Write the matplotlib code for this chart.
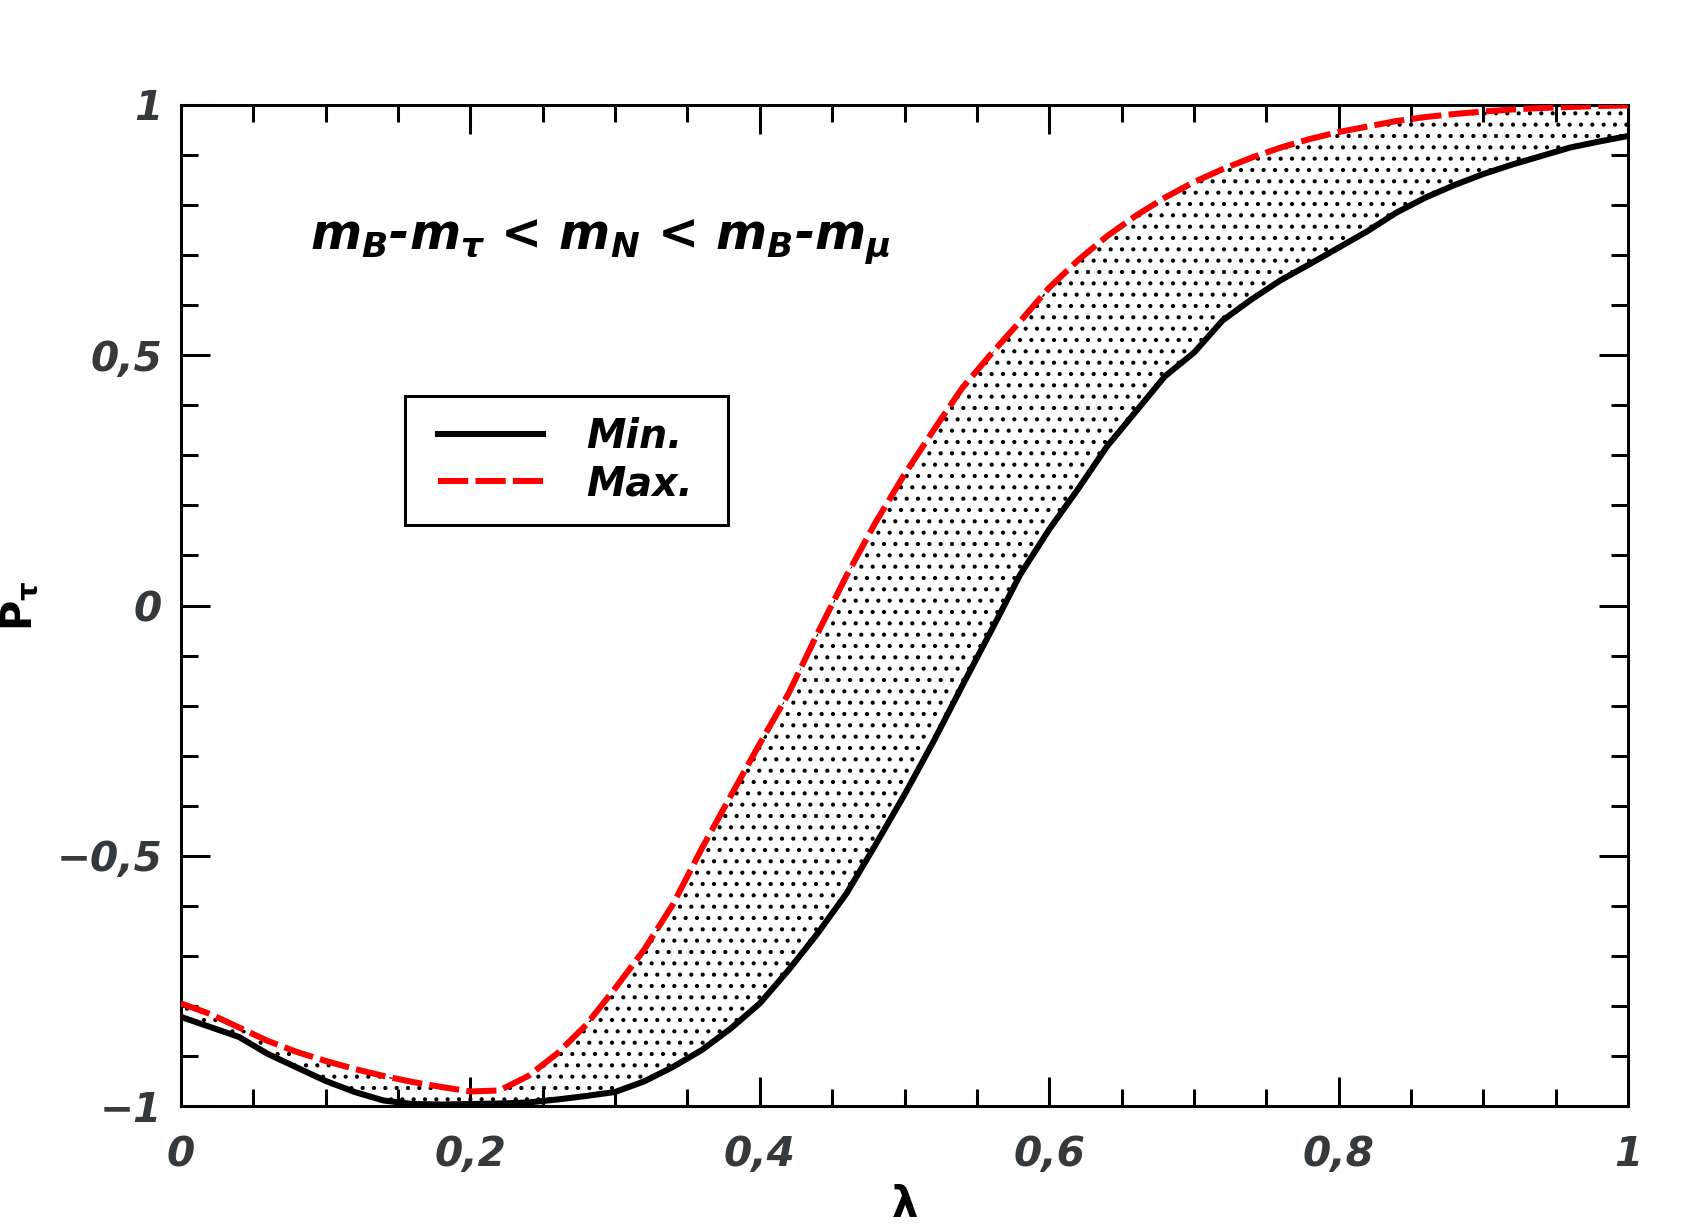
import numpy as np
import matplotlib
matplotlib.use("Agg")
import matplotlib.pyplot as plt
from matplotlib.ticker import MultipleLocator, FuncFormatter
from matplotlib.lines import Line2D
from matplotlib.legend_handler import HandlerLine2D


# Data
lam = [0.00, 0.02, 0.04, 0.06, 0.08, 0.10, 0.12, 0.14, 0.16, 0.18,
       0.20, 0.22, 0.24, 0.26, 0.28, 0.30, 0.32, 0.34, 0.36, 0.38,
       0.40, 0.42, 0.44, 0.46, 0.48, 0.50, 0.52, 0.54, 0.56, 0.58,
       0.60, 0.62, 0.64, 0.66, 0.68, 0.70, 0.72, 0.74, 0.76, 0.78,
       0.80, 0.82, 0.84, 0.86, 0.88, 0.90, 0.92, 0.94, 0.96, 0.98, 1.00]

p_min = [-0.822, -0.842, -0.862, -0.896, -0.923, -0.950, -0.972, -0.989, -0.996, -0.997,
         -0.996, -0.995, -0.993, -0.987, -0.980, -0.972, -0.951, -0.922, -0.888, -0.845,
         -0.795, -0.728, -0.655, -0.575, -0.478, -0.378, -0.272, -0.160, -0.050, 0.062,
         0.152, 0.233, 0.318, 0.388, 0.458, 0.505, 0.570, 0.612, 0.650, 0.682,
         0.715, 0.748, 0.785, 0.815, 0.840, 0.862, 0.881, 0.898, 0.915, 0.927, 0.938]

p_max = [-0.795, -0.816, -0.843, -0.870, -0.892, -0.910, -0.926, -0.940, -0.952, -0.962,
         -0.971, -0.969, -0.940, -0.895, -0.838, -0.765, -0.688, -0.597, -0.485, -0.380,
         -0.276, -0.175, -0.055, 0.060, 0.166, 0.262, 0.350, 0.435, 0.503, 0.568,
         0.635, 0.690, 0.738, 0.779, 0.815, 0.846, 0.872, 0.895, 0.915, 0.932,
         0.946, 0.957, 0.968, 0.976, 0.982, 0.987, 0.991, 0.994, 0.996, 0.998, 0.999]

label_min = "Min."
label_max = "Max."
note = r"$m_B$-$m_\tau$ < $m_N$ < $m_B$-$m_\mu$"


# Style
plt.rcParams['font.family'] = 'DejaVu Sans'
plt.rcParams['font.weight'] = 'bold'
plt.rcParams['font.style'] = 'italic'
plt.rcParams['mathtext.fontset'] = 'custom'
plt.rcParams['mathtext.rm'] = 'DejaVu Sans:style=normal:weight=bold'
plt.rcParams['mathtext.it'] = 'DejaVu Sans:style=italic:weight=bold'
plt.rcParams['mathtext.bf'] = 'DejaVu Sans:style=normal:weight=bold'
plt.rcParams['hatch.linewidth'] = 2.0

DPI = 68
W, H = 1691, 1232
tick_col = '#33393c'

fig = plt.figure(figsize=(W / DPI, H / DPI), dpi=DPI)
ax = fig.add_axes([181 / W, 1 - 1106 / H, 1447 / W, 1001 / H])

# band + curves
ax.fill_between(lam, p_min, p_max, facecolor='none', edgecolor='black',
                hatch='.', linewidth=0, zorder=1)
ax.plot(lam, p_min, color='black', lw=6.4, label=label_min, zorder=3)
ax.plot(lam, p_max, color='red', lw=6.4, ls=(0, (5.0, 1.2)),
        dash_capstyle='butt', label=label_max, zorder=4)

ax.set_xlim(0, 1)
ax.set_ylim(-1, 1)

# ticks
fmt = FuncFormatter(lambda v, p: ('%g' % v).replace('.', ',').replace('-', '\u2212'))
ax.xaxis.set_major_locator(MultipleLocator(0.2))
ax.xaxis.set_minor_locator(MultipleLocator(0.05))
ax.yaxis.set_major_locator(MultipleLocator(0.5))
ax.yaxis.set_minor_locator(MultipleLocator(0.1))
ax.xaxis.set_major_formatter(fmt)
ax.yaxis.set_major_formatter(fmt)
ax.tick_params(which='both', direction='in', top=True, right=True, width=3.2,
               labelsize=43, labelcolor=tick_col)
ax.tick_params(which='major', length=31)
ax.tick_params(which='minor', length=18.5)
ax.tick_params(axis='x', pad=31)
ax.tick_params(axis='y', pad=20)
for s in ax.spines.values():
    s.set_linewidth(3.2)

# labels
ax.set_xlabel('λ', fontsize=44, fontstyle='normal', fontweight='bold')
ax.xaxis.set_label_coords(0.5, -0.078)
ax.set_ylabel(r'$\mathrm{P}_{\mathrm{\tau}}$', fontsize=44)
ax.yaxis.set_label_coords(-0.097, 0.5)

ax.text(0.089, 0.855, note, transform=ax.transAxes, fontsize=52,
        va='baseline', ha='left')

# legend box: upper-left corner and width
leg = ax.legend(loc='upper left', bbox_to_anchor=(0.1548, 0.5, 0.2232, 0.2093),
                mode='expand', borderaxespad=0,
                fontsize=42, handlelength=2.95, handletextpad=1.1, borderpad=0.52,
                labelspacing=0.19, fancybox=False, framealpha=1, edgecolor='black',
                handler_map={Line2D: HandlerLine2D(xpad=0.3)})
leg.get_frame().set_linewidth(3.2)

fig.savefig('out.png', dpi=DPI)
